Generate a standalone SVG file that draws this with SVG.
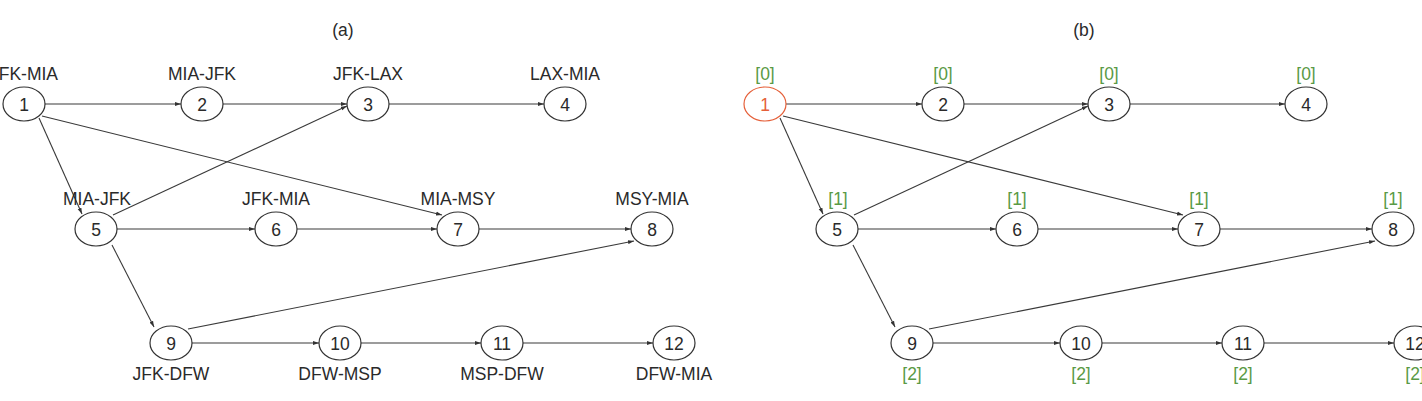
<svg xmlns="http://www.w3.org/2000/svg" width="1422" height="401" viewBox="0 0 1422 401">
<style>
text{font-family:"Liberation Sans",Arial,sans-serif;font-size:17.5px;fill:#2a2a2a;text-anchor:middle}
.n ellipse{fill:#fff;stroke:#333;stroke-width:1.2}
.e line{stroke:#3a3a3a;stroke-width:1.1;marker-end:url(#ah)}
text.g{fill:#5a9a45}
.o ellipse{stroke:#e5603a}
.o text.d{fill:#e5603a}
</style>
<defs>
<marker id="ah" markerUnits="userSpaceOnUse" markerWidth="7" markerHeight="5" refX="6" refY="2.5" orient="auto">
<path d="M0,0.5 L6,2.5 L0,4.5 Z" fill="#333"/>
</marker>
</defs>
<rect width="1422" height="401" fill="#fff"/>
<text x="343" y="36">(a)</text>
<text x="1084" y="36">(b)</text>

<g id="edges-a" class="e">
<line x1="45" y1="104" x2="181" y2="104"/>
<line x1="223" y1="104" x2="347" y2="104"/>
<line x1="389" y1="104" x2="544" y2="104"/>
<line x1="39" y1="118" x2="82" y2="214"/>
<line x1="42" y1="116" x2="442" y2="215"/>
<line x1="113" y1="215" x2="347" y2="106"/>
<line x1="117" y1="229" x2="255" y2="229"/>
<line x1="297" y1="229" x2="437" y2="229"/>
<line x1="479" y1="229" x2="631" y2="229"/>
<line x1="112" y1="245" x2="154" y2="327"/>
<line x1="188" y1="329" x2="634" y2="241"/>
<line x1="192" y1="343" x2="319" y2="343"/>
<line x1="361" y1="343" x2="481" y2="343"/>
<line x1="523" y1="343" x2="653" y2="343"/>
</g>

<g id="edges-b" class="e" transform="translate(741,0)">
<line x1="45" y1="104" x2="181" y2="104"/>
<line x1="223" y1="104" x2="347" y2="104"/>
<line x1="389" y1="104" x2="544" y2="104"/>
<line x1="39" y1="118" x2="82" y2="214"/>
<line x1="42" y1="116" x2="442" y2="215"/>
<line x1="113" y1="215" x2="347" y2="106"/>
<line x1="117" y1="229" x2="255" y2="229"/>
<line x1="297" y1="229" x2="437" y2="229"/>
<line x1="479" y1="229" x2="631" y2="229"/>
<line x1="112" y1="245" x2="154" y2="327"/>
<line x1="188" y1="329" x2="634" y2="241"/>
<line x1="192" y1="343" x2="319" y2="343"/>
<line x1="361" y1="343" x2="481" y2="343"/>
<line x1="523" y1="343" x2="653" y2="343"/>
</g>

<!-- panel a nodes -->
<g id="a1" class="n"><ellipse cx="24" cy="104" rx="21" ry="17"/><text x="24" y="110.5">1</text><text x="24" y="80">JFK-MIA</text></g>
<g id="a2" class="n"><ellipse cx="202" cy="104" rx="21" ry="17"/><text x="202" y="110.5">2</text><text x="202" y="80">MIA-JFK</text></g>
<g id="a3" class="n"><ellipse cx="368" cy="104" rx="21" ry="17"/><text x="368" y="110.5">3</text><text x="368" y="80">JFK-LAX</text></g>
<g id="a4" class="n"><ellipse cx="565" cy="104" rx="21" ry="17"/><text x="565" y="110.5">4</text><text x="565" y="80">LAX-MIA</text></g>
<g id="a5" class="n"><ellipse cx="96" cy="229" rx="21" ry="17"/><text x="96" y="235.5">5</text><text x="97" y="205">MIA-JFK</text></g>
<g id="a6" class="n"><ellipse cx="276" cy="229" rx="21" ry="17"/><text x="276" y="235.5">6</text><text x="276" y="205">JFK-MIA</text></g>
<g id="a7" class="n"><ellipse cx="458" cy="229" rx="21" ry="17"/><text x="458" y="235.5">7</text><text x="458" y="205">MIA-MSY</text></g>
<g id="a8" class="n"><ellipse cx="652" cy="229" rx="21" ry="17"/><text x="652" y="235.5">8</text><text x="652" y="205">MSY-MIA</text></g>
<g id="a9" class="n"><ellipse cx="171" cy="343" rx="21" ry="17"/><text x="171" y="349.5">9</text><text x="171" y="380">JFK-DFW</text></g>
<g id="a10" class="n"><ellipse cx="340" cy="343" rx="21" ry="17"/><text x="340" y="349.5">10</text><text x="340" y="380">DFW-MSP</text></g>
<g id="a11" class="n"><ellipse cx="502" cy="343" rx="21" ry="17"/><text x="502" y="349.5">11</text><text x="502" y="380">MSP-DFW</text></g>
<g id="a12" class="n"><ellipse cx="674" cy="343" rx="21" ry="17"/><text x="674" y="349.5">12</text><text x="674" y="380">DFW-MIA</text></g>

<!-- panel b nodes -->
<g id="b1" class="n o"><ellipse cx="765" cy="104" rx="21" ry="17"/><text class="d" x="765" y="110.5">1</text><text class="g" x="765" y="80">[0]</text></g>
<g id="b2" class="n"><ellipse cx="943" cy="104" rx="21" ry="17"/><text x="943" y="110.5">2</text><text class="g" x="943" y="80">[0]</text></g>
<g id="b3" class="n"><ellipse cx="1109" cy="104" rx="21" ry="17"/><text x="1109" y="110.5">3</text><text class="g" x="1109" y="80">[0]</text></g>
<g id="b4" class="n"><ellipse cx="1306" cy="104" rx="21" ry="17"/><text x="1306" y="110.5">4</text><text class="g" x="1306" y="80">[0]</text></g>
<g id="b5" class="n"><ellipse cx="837" cy="229" rx="21" ry="17"/><text x="837" y="235.5">5</text><text class="g" x="838" y="205">[1]</text></g>
<g id="b6" class="n"><ellipse cx="1017" cy="229" rx="21" ry="17"/><text x="1017" y="235.5">6</text><text class="g" x="1017" y="205">[1]</text></g>
<g id="b7" class="n"><ellipse cx="1199" cy="229" rx="21" ry="17"/><text x="1199" y="235.5">7</text><text class="g" x="1199" y="205">[1]</text></g>
<g id="b8" class="n"><ellipse cx="1393" cy="229" rx="21" ry="17"/><text x="1393" y="235.5">8</text><text class="g" x="1393" y="205">[1]</text></g>
<g id="b9" class="n"><ellipse cx="912" cy="343" rx="21" ry="17"/><text x="912" y="349.5">9</text><text class="g" x="912" y="380">[2]</text></g>
<g id="b10" class="n"><ellipse cx="1081" cy="343" rx="21" ry="17"/><text x="1081" y="349.5">10</text><text class="g" x="1081" y="380">[2]</text></g>
<g id="b11" class="n"><ellipse cx="1243" cy="343" rx="21" ry="17"/><text x="1243" y="349.5">11</text><text class="g" x="1243" y="380">[2]</text></g>
<g id="b12" class="n"><ellipse cx="1415" cy="343" rx="21" ry="17"/><text x="1415" y="349.5">12</text><text class="g" x="1415" y="380">[2]</text></g>
</svg>
